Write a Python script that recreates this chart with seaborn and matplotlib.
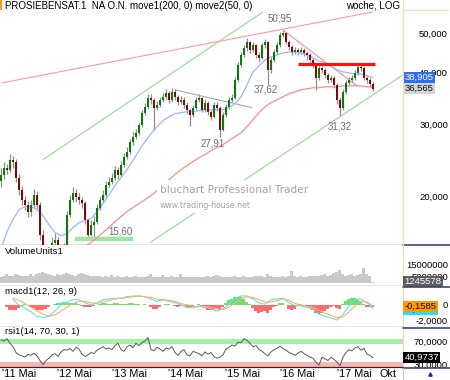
import numpy as np
import matplotlib
matplotlib.use("Agg")
import matplotlib.pyplot as plt
import matplotlib.transforms as mtransforms
from matplotlib.patches import Rectangle
from matplotlib.lines import Line2D
from matplotlib.ticker import FixedLocator, NullLocator, NullFormatter
import seaborn as sns

sns.set_theme(style="white")
plt.rcParams['font.family'] = ['Liberation Sans', 'DejaVu Sans']

# ---------------- data ----------------
TITLE = "PROSIEBENSAT.1  NA O.N. move1(200, 0) move2(50, 0)"
MODE = "woche, LOG"
OPEN0 = 21.8
CLOSE = [22.57, 23.48, 23.21, 24.56, 24.28, 22.19, 20.75, 19.61, 19.07, 18.34,
         19.07, 20.17, 19.07, 16.12, 14.41, 13.62, 14.17, 15.41, 15.67, 14.82,
         13.86, 14.99, 18.03, 19.61, 20.40, 19.95, 19.61, 19.29, 17.53, 16.12,
         17.05, 17.34, 18.75, 19.61, 20.17, 21.34, 21.70, 22.19, 23.21, 22.57,
         23.87, 24.97, 25.68, 27.16, 27.93, 28.56, 29.87, 31.96, 33.05, 34.76,
         34.37, 32.87, 33.42, 34.37, 34.95, 35.74, 34.37, 35.94, 34.95, 33.99,
         34.37, 33.42, 32.50, 31.60, 32.87, 34.37, 34.76, 32.50, 33.80, 32.14,
         31.25, 33.42, 32.87, 29.04, 31.60, 33.05, 34.37, 34.76, 38.44, 41.80,
         44.21, 45.98, 47.55, 45.47, 46.76, 44.21, 43.48, 46.76, 47.55, 40.65,
         42.99, 44.96, 46.76, 49.44, 50.00, 47.55, 46.24, 44.96, 45.47, 44.96,
         45.47, 44.71, 44.21, 42.99, 41.80, 38.87, 41.11, 40.65, 39.53, 38.44,
         38.87, 37.38, 34.37, 32.87, 35.94, 37.80, 38.44, 38.87, 39.97, 41.34,
         41.11, 38.87, 38.44, 37.59, 36.565]
HIGH = [23.4, 24.2, 24.0, 25.3, 25.0, 24.6, 22.6, 21.2, 20.0, 19.5,
        19.6, 20.8, 20.6, 19.3, 16.5, 14.8, 14.7, 15.9, 16.3, 15.9,
        15.1, 15.4, 18.4, 20.1, 21.0, 20.8, 20.3, 19.9, 19.5, 17.7,
        17.5, 17.9, 19.1, 20.0, 20.7, 21.8, 22.3, 22.8, 23.7, 23.6,
        24.4, 25.5, 26.3, 27.6, 28.6, 29.2, 30.4, 32.5, 33.8, 35.6,
        35.5, 34.8, 34.2, 35.0, 35.8, 36.6, 36.2, 36.8, 36.5, 35.3,
        35.2, 34.9, 33.9, 32.9, 33.4, 35.0, 35.6, 35.0, 34.5, 34.1,
        32.5, 34.0, 33.9, 33.1, 32.0, 33.6, 35.0, 35.5, 39.0, 42.5,
        45.0, 46.8, 48.5, 47.9, 47.5, 47.1, 44.9, 47.4, 48.3, 47.8,
        43.7, 45.6, 47.5, 50.2, 50.95, 50.4, 48.0, 46.8, 46.3, 46.0,
        46.2, 46.0, 45.2, 44.6, 43.4, 42.1, 41.8, 41.6, 41.0, 39.9,
        39.6, 39.2, 37.7, 34.9, 36.5, 38.4, 39.1, 39.5, 40.6, 42.0,
        42.1, 41.6, 39.4, 38.9, 37.9]
LOW = [21.0, 22.0, 22.6, 22.9, 23.4, 21.6, 20.1, 19.0, 18.5, 17.8,
       17.9, 18.8, 18.6, 15.6, 13.6, 12.8, 13.2, 13.9, 15.0, 14.3,
       13.3, 13.6, 14.8, 17.8, 19.4, 19.4, 19.1, 18.7, 17.1, 15.6,
       16.0, 15.6, 17.1, 18.5, 19.3, 20.0, 21.0, 21.4, 21.9, 22.0,
       22.3, 23.6, 24.6, 25.3, 26.7, 27.5, 28.2, 29.5, 31.5, 32.6,
       33.5, 29.0, 32.4, 33.0, 34.0, 34.6, 33.8, 34.0, 34.3, 33.3,
       33.5, 32.8, 31.8, 29.6, 31.2, 32.5, 33.9, 32.0, 32.1, 31.5,
       30.6, 31.0, 32.2, 27.91, 28.8, 31.2, 32.7, 33.9, 34.5, 38.0,
       41.3, 43.6, 45.3, 44.6, 45.0, 43.5, 42.6, 43.1, 46.0, 37.62,
       40.0, 42.5, 44.4, 46.3, 48.8, 46.9, 45.5, 44.2, 44.4, 44.2,
       44.4, 44.0, 43.0, 42.3, 41.0, 36.4, 38.5, 39.9, 38.8, 37.8,
       37.9, 36.7, 33.6, 31.32, 32.5, 35.5, 37.4, 38.0, 38.5, 39.6,
       40.4, 38.3, 37.8, 37.0, 36.2]
# moving averages (sampled every 2nd bar)
MA50 = [14.82, 16.39, 17.53, 18.54, 18.86, 18.86, 18.54, 17.93, 17.05, 16.30,
        16.03, 16.21, 16.76, 17.24, 17.44, 17.63, 18.34, 19.18, 20.17, 21.22,
        22.19, 23.21, 24.42, 25.83, 27.16, 28.40, 29.54, 30.56, 31.25, 31.78,
        31.96, 32.14, 32.14, 32.32, 32.50, 32.50, 32.50, 32.50, 32.87, 33.61,
        34.95, 37.38, 40.20, 41.57, 42.99, 43.72, 44.21, 44.71, 44.96, 44.96,
        44.71, 44.21, 43.48, 42.75, 42.27, 41.57, 40.65, 40.20, 39.97, 39.75,
        39.75, 39.31, 38.905]
MA50_START = 0
MA200 = [15.07, 15.41, 15.85, 16.30, 16.76, 17.34, 17.83, 18.34, 18.75, 19.18,
         19.61, 20.06, 20.63, 21.34, 21.94, 22.57, 23.21, 23.74, 24.28, 24.83,
         25.26, 25.83, 26.27, 26.71, 27.32, 27.93, 28.56, 29.54, 30.73, 31.96,
         33.05, 33.80, 34.37, 34.95, 35.54, 35.94, 36.35, 36.55, 36.76, 36.76,
         36.96, 36.96, 36.96, 37.17, 37.17, 37.17, 37.17, 36.96, 36.96]
MA200_START = 28
VOLUME_M = [5, 6, 7, 5.5, 6, 7, 6.5, 6, 5.5, 6,
            7, 6, 7.5, 8, 9, 8, 7, 6.5, 6, 7,
            6.5, 7, 8, 7, 6.5, 6, 7.5, 8, 7, 6.5,
            6, 5.5, 6, 5.5, 5, 5.5, 5, 6.5, 5, 5.5,
            4.5, 5, 5.5, 5, 4.5, 5.5, 5, 4.5, 5, 6,
            7, 5, 4.5, 5, 6.5, 5, 4.5, 5.5, 4.5, 5,
            7.5, 5, 4.5, 4.5, 5, 4.5, 5, 4.5, 5, 5.5,
            5, 5.5, 6.5, 6, 5, 5, 4.5, 5, 5.5, 5,
            5, 5.5, 5, 4.5, 5, 5.5, 6, 5.5, 5, 7,
            5.5, 5, 4.5, 5, 5.5, 4.5, 6, 9.5, 5.5, 5,
            5.5, 5, 5, 5.5, 6, 5.5, 6, 6.5, 7, 6,
            6.5, 8, 9, 10, 7, 6, 6.5, 7, 6, 6.5,
            7, 12, 7, 6, 1.245578]
MACD_HIST = [0, 0, -0.3, -0.6, -0.7, -0.6, -0.4, -0.1, 0.1, 0.0,
             -0.2, -0.4, -0.6, -0.7, -0.7, -0.5, -0.2, 0.0, 0.1, 0.2,
             0.3, 0.4, 0.4, 0.3, 0.3, 0.2, 0.1, -0.1, -0.3, -0.3,
             -0.2, -0.1, 0.0, 0.1, 0.2, 0.2, 0.1, 0.1, 0.2, 0.2,
             0.1, 0.1, 0.1, 0.2, 0.2, 0.1, 0.1, 0.0, 0.1, 0.0,
             -0.3, -0.5, -0.5, -0.3, 0.0, 0.1, 0.1, 0.0, -0.1, -0.2,
             -0.1, 0.0, -0.2, -0.3, -0.2, 0.0, 0.1, -0.1, -0.4, -0.6,
             -0.7, -0.6, -0.5, -0.6, -0.2, 0.3, 0.6, 0.8, 1.0, 1.1,
             1.0, 0.8, 0.4, 0.1, -0.4, -0.8, -1.1, -0.9, -0.8, -1.0,
             -0.6, -0.3, -0.1, 0.2, 0.3, 0.0, -0.5, -0.7, -0.5, -0.1,
             0.1, 0.0, -0.2, -0.4, -0.7, -1.0, -1.2, -1.0, -0.8, -0.5,
             -0.2, -0.1, -0.4, -0.5, 0.1, 0.5, 0.8, 0.9, 0.9, 0.7,
             0.5, 0.1, -0.2, -0.3, -0.3]
MACD_LINE = [0.7, 0.0, -0.4, -0.9, -1.5, -1.7, -1.5, -0.8, 0.0, 0.4,
             0.7, 0.7, 0.3, 0.0, 0.3, 0.7, 0.8, 0.9, 0.9, 1.1,
             1.2, 1.2, 1.1, 0.8, 0.5, 0.7, 0.5, 0.3, 0.0, -0.3,
             -0.4, -0.1, -0.3, -0.5, -0.8, -0.5, 0.1, 0.8, 1.2, 1.2,
             0.8, 0.3, 0.1, 0.7, 0.8, 0.9, 0.3, -0.1, -0.1, -0.3,
             -0.5, -1.2, -1.5, -1.7, -2.0, -1.3, -0.1, 0.7, 0.8, 0.3,
             -0.45]
MACD_SIGNAL = [0.9, 0.6, 0.2, -0.3, -0.8, -1.2, -1.5, -1.3, -0.8, -0.3,
               0.2, 0.5, 0.5, 0.3, 0.2, 0.4, 0.6, 0.8, 0.9, 1.0,
               1.1, 1.2, 1.1, 1.0, 0.8, 0.7, 0.6, 0.5, 0.2, 0.0,
               -0.2, -0.2, -0.2, -0.3, -0.5, -0.6, -0.3, 0.3, 0.8, 1.1,
               1.0, 0.7, 0.4, 0.4, 0.6, 0.8, 0.6, 0.2, 0.0, -0.2,
               -0.3, -0.7, -1.1, -1.4, -1.7, -1.6, -0.9, -0.1, 0.5, 0.4,
               -0.1585]
MACD_START = 4
RSI = [72, 70, 74, 66, 60, 50, 46, 44, 42, 47, 45, 49, 44, 36, 29, 36, 40, 46, 48, 43,
       51, 55, 54, 57, 52, 59, 56, 47, 43, 46, 50, 48, 54, 57, 60, 56, 58, 55, 62, 66,
       55, 52, 60, 63, 58, 66, 62, 67, 70, 76, 55, 53, 59, 56, 52, 58, 56, 60, 50, 45,
       52, 55, 46, 44, 52, 50, 48, 44, 51, 47, 50, 43, 40, 42, 46, 56, 59, 63, 61, 68,
       67, 74, 71, 66, 60, 62, 55, 52, 48, 44, 51, 55, 57, 61, 57, 54, 50, 48, 45, 49,
       52, 48, 45, 42, 40, 33, 28, 42, 39, 36, 42, 38, 33, 27, 42, 50, 55, 53, 58, 60,
       54, 57, 47, 45, 40.9737]
XTICK_POS = [0.33, 18.67, 37.0, 55.67, 74.67, 93.0, 112.0, 126.33]
XTICK_LABELS = ["'11 Mai", "'12 Mai", "'13 Mai", "'14 Mai", "'15 Mai", "'16 Mai", "'17 Mai", "Okt"]
PRICE_TICKS = [50, 40, 30, 20]
PRICE_TICK_LABELS = ["50,000", "40,000", "30,000", "20,000"]
# drawn analysis lines: (bar index, price)
TREND_RED_TOP = [(0.33, 37.8), (124.0, 56.3)]
TREND_GREEN_UP = [(14.0, 24.56), (87.33, 56.3)]
TREND_GREEN_LOW = [(49.67, 15.41), (134.0, 39.53)]
TREND_GRAY = [(58.0, 36.35), (83.67, 32.87)]
TREND_RED_DOWN = [(94.0, 50.85), (118.67, 37.17)]
RESIST = (99.0, 124.67, 42.0)
SUPPORT = (24.67, 44.0, 15.75)
MARKS = [("50,95", 94, 50.95, -2.2, 7.9), ("37,62", 89, 37.62, -1.4, -4.5),
         ("27,91", 73, 27.91, -5.0, -5.0), ("31,32", 113, 31.32, 0.0, -7.2),
         ("15,60", 29, 15.60, 23.0, 6.5)]

# ---------------- layout ----------------
W, H = 450, 380
PW = 403 / W
fig = plt.figure(figsize=(W / 100, H / 100), dpi=100)
fig.patch.set_facecolor('white')


def panel(top, bottom):
    return fig.add_axes([0, 1 - bottom / H, PW, (bottom - top) / H])


ax = panel(0, 245)
axv = panel(245, 286)
axm = panel(286, 327)
axr = panel(327, 367)
XMIN, XMAX = -1 / 3, 134.0
FS = 6.8
TXT_GRAY = '#6e6e6e'

for a in (ax, axv, axm, axr):
    a.set_xlim(XMIN, XMAX)
    a.set_facecolor('white')
    for s in ('left', 'top'):
        a.spines[s].set_visible(False)
    a.spines['bottom'].set_color('#2a2a2a')
    a.spines['bottom'].set_linewidth(0.9)
    a.spines['right'].set_color('#efe0b4')
    a.spines['right'].set_linewidth(0.9)
    a.grid(False)
    a.yaxis.tick_right()
    a.tick_params(axis='y', length=0, pad=32.4, labelsize=FS, colors='black')
    a.set_xlabel('')
    a.set_ylabel('')

# ---------------- main price panel ----------------
close = np.array(CLOSE)
opens = np.r_[OPEN0, close[:-1]]
idx = np.arange(len(close))
up = close >= opens
ax.set_yscale('log')
ax.vlines(idx, LOW, HIGH, color='#8e8e8e', lw=0.9, zorder=2)
ax.bar(idx, close - opens, bottom=opens, width=0.7,
       color=np.where(up, '#0b7a0b', '#7a0c0c'), linewidth=0, zorder=3)

ma50_x = MA50_START + 2 * np.arange(len(MA50))
ma200_x = MA200_START + 2 * np.arange(len(MA200))
sns.lineplot(x=ma50_x, y=MA50, ax=ax, color='#9db6ff', lw=0.9, estimator=None,
             sort=False, legend=False, zorder=2.5)
sns.lineplot(x=ma200_x, y=MA200, ax=ax, color='#ff8a8a', lw=0.9, estimator=None,
             sort=False, legend=False, zorder=2.5)


def seg(pts, color, lw):
    ax.plot([p[0] for p in pts], [p[1] for p in pts], color=color, lw=lw,
            solid_capstyle='butt', zorder=2.2)


seg(TREND_RED_TOP, '#ff9a9a', 0.8)
seg(TREND_GREEN_UP, '#8ddc8d', 0.8)
seg(TREND_GREEN_LOW, '#8ddc8d', 0.8)
seg(TREND_GRAY, '#a8a8a8', 0.8)
seg(TREND_RED_DOWN, '#ff8c8c', 0.8)
ax.plot([RESIST[0], RESIST[1]], [RESIST[2]] * 2, color='#ff1010', lw=2.2,
        solid_capstyle='butt', zorder=4)
ax.plot([SUPPORT[0], SUPPORT[1]], [SUPPORT[2]] * 2, color='#a0e6a0', lw=3.2,
        solid_capstyle='butt', zorder=2)

ax.set_ylim(15.2, 60.2)
ax.yaxis.set_major_locator(FixedLocator(PRICE_TICKS))
ax.yaxis.set_minor_locator(NullLocator())
ax.yaxis.set_minor_formatter(NullFormatter())
ax.set_yticklabels(PRICE_TICK_LABELS, ha='right')
ax.set_xticks([])

for lab, xi, pv, dx, dy in MARKS:
    ax.annotate(lab, xy=(xi, pv), xytext=(dx, dy), textcoords='offset points',
                ha='center', va='center', fontsize=7, color=TXT_GRAY, zorder=6)

# watermark with opaque backing
ax.add_patch(Rectangle((157 / W, 1 - 213 / H), (330 - 157) / W, 33 / H,
                       transform=fig.transFigure, facecolor='white',
                       edgecolor='none', zorder=4.5))
ax.text(160 / W, 1 - 190 / H, "bluchart Professional Trader", transform=fig.transFigure,
        fontsize=7.6, color='#a4a4a4', family='DejaVu Sans', ha='left', va='center', zorder=5)
ax.text(160 / W, 1 - 205 / H, "www.trading-house.net", transform=fig.transFigure,
        fontsize=5.6, color='#a4a4a4', family='DejaVu Sans', ha='left', va='center', zorder=5)


def value_box(a, val, label, fc, tc, z=20):
    tr = mtransforms.blended_transform_factory(a.transAxes, a.transData)
    a.text(1.0 + 1.5 / 403, val, label, transform=tr, ha='left', va='center',
           fontsize=FS, color=tc, clip_on=False, zorder=z,
           bbox=dict(boxstyle='square,pad=0.12', fc=fc, ec='none'))


value_box(ax, MA50[-1], "38,905", '#2e6cf2', 'white')
value_box(ax, CLOSE[-1], "36,565", '#d4d4d4', '#111111')

# ---------------- volume ----------------
axv.bar(idx, VOLUME_M, width=1.0, color='#c9c9c9', linewidth=0)
axv.set_ylim(-2.2, 30)
axv.set_yticks([15, 5])
axv.set_yticklabels(["15000000", "5000000"], ha='right')
axv.set_xticks([])
value_box(axv, VOLUME_M[-1], "1245578", '#5e5e5e', 'white')

# ---------------- MACD ----------------
hist = np.array(MACD_HIST)
axm.bar(idx, hist, width=1.0, color=np.where(hist >= 0, '#6fe06f', '#ff6a6a'), linewidth=0)
macd_x = MACD_START + 2 * np.arange(len(MACD_LINE))
sns.lineplot(x=macd_x, y=MACD_LINE, ax=axm, color='#55e6f0', lw=0.8, estimator=None,
             sort=False, legend=False)
sns.lineplot(x=macd_x, y=MACD_SIGNAL, ax=axm, color='#ffb060', lw=0.8, estimator=None,
             sort=False, legend=False)
axm.set_ylim(-2.93, 2.53)
axm.set_yticks([0, -2])
axm.set_yticklabels(["0", "-2,0000"], ha='right')
axm.set_xticks([])
value_box(axm, -0.62, "-0,4496", '#22e4f4', '#111111', z=19)
value_box(axm, MACD_SIGNAL[-1], "-0,1585", '#ff9a00', '#111111', z=21)

# ---------------- RSI ----------------
axr.axhline(70, color='#a6f0a6', lw=3.6, zorder=1)
axr.axhline(30, color='#ffb4b4', lw=3.6, zorder=1)
sns.lineplot(x=idx, y=RSI, ax=axr, color='#5a5a5a', lw=0.7, estimator=None,
             sort=False, legend=False, zorder=3)
axr.set_ylim(24.8, 94.3)
axr.set_yticks([70, 30])
axr.set_yticklabels(["70,0000", "30,0000"], ha='right')
value_box(axr, RSI[-1], "40,9737", '#000000', 'white')
axr.set_xticks(XTICK_POS)
axr.set_xticklabels(XTICK_LABELS, ha='left', fontsize=7.8)
axr.tick_params(axis='x', length=0, pad=1.5, colors='black')

# ---------------- frame / labels ----------------
def ftext(x, y, s, **kw):
    fig.text(x / W, 1 - y / H, s, va='center', **kw)


ftext(5, 6, TITLE, fontsize=7, color='black', ha='left')
ftext(400, 6, MODE, fontsize=7, color='black', ha='right')
ftext(5, 252, "VolumeUnits1", fontsize=FS, color='black', ha='left')
ftext(5, 292, "macd1(12, 26, 9)", fontsize=FS, color='black', ha='left')
ftext(5, 332, "rsi1(14, 70, 30, 1)", fontsize=FS, color='black', ha='left')
fig.add_artist(Rectangle((0, 1 - 10 / H), 2 / W, 10 / H, transform=fig.transFigure,
                         facecolor='#ff9a1a', edgecolor='none'))

for yy in (245, 286.5, 327.5, 367.5):
    fig.add_artist(Line2D([403 / W, 1], [1 - yy / H] * 2, color='#3a4870', lw=1.2,
                          transform=fig.transFigure))
fig.add_artist(Line2D([403 / W, 448 / W], [1 - 10 / H] * 2, color='#efe0b4', lw=0.9,
                      transform=fig.transFigure))
fig.add_artist(Line2D([403 / W, 403 / W], [1 - 10 / H, 1 - 245 / H], color='#efe0b4', lw=0.9,
                      transform=fig.transFigure))
fig.add_artist(Line2D([403 / W, 403 / W], [0, 1 - 367.5 / H], color='#c8c8c8', lw=0.8,
                      transform=fig.transFigure))
fig.add_artist(Line2D([430 / W], [1 - 374 / H], marker='^', markersize=2.4, color='#1f2f90',
                      transform=fig.transFigure, linestyle='none'))

fig.savefig("out.png", dpi=100, facecolor='white')
